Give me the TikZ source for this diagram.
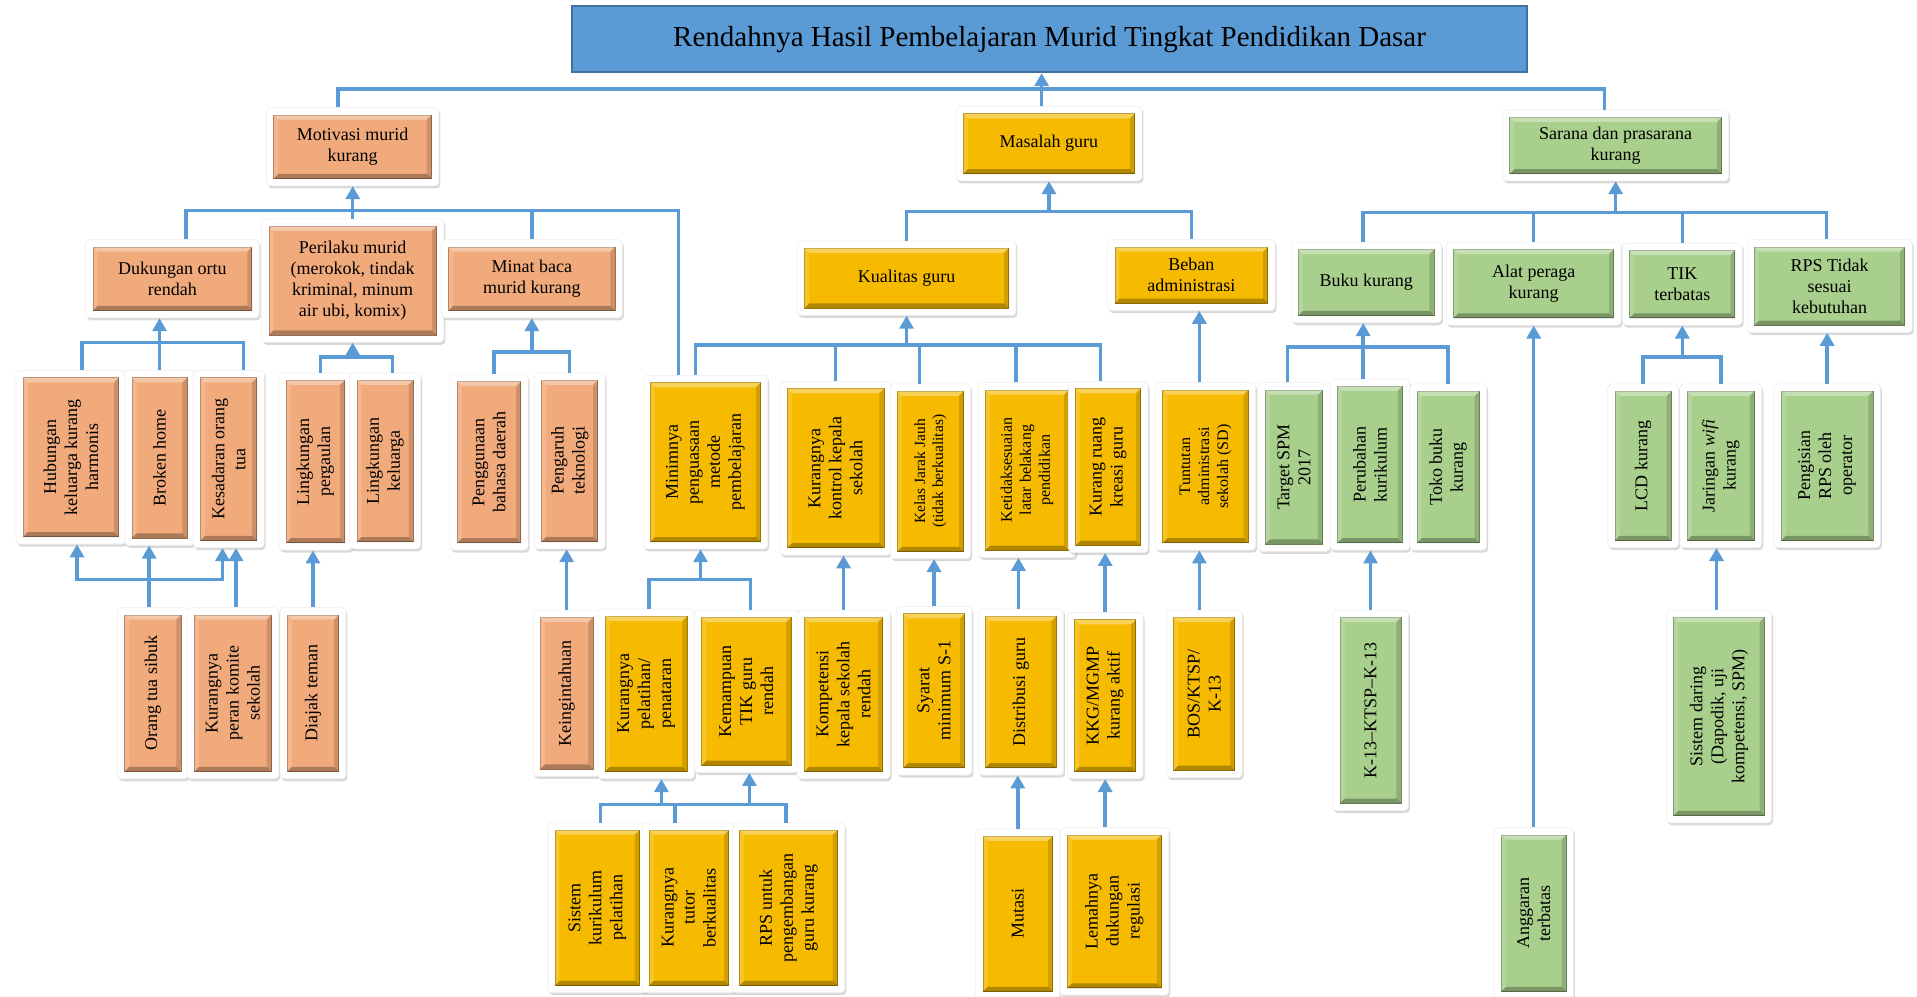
\documentclass[tikz,border=0pt]{standalone}
\usepackage{fontspec}
\setmainfont{Liberation Serif}
\usetikzlibrary{arrows.meta,shadows,calc}
\definecolor{lineblue}{RGB}{91,155,213}
\definecolor{titleblue}{RGB}{91,155,213}
\definecolor{titleedge}{RGB}{65,113,156}
\definecolor{cor}{RGB}{241,170,124}
\definecolor{cgo}{RGB}{246,187,0}
\definecolor{cgr}{RGB}{168,207,140}
\newcommand{\fA}{\fontsize{18}{21}\selectfont}
\newcommand{\fB}{\fontsize{16}{19}\selectfont}
\newcommand{\fC}{\fontsize{15.5}{18}\selectfont}
\tikzset{
 frame/.style={fill=white, draw=black!7, line width=0.6pt, rounded corners=4pt, inner sep=0pt,
   drop shadow={opacity=0.3, shadow xshift=1.5pt, shadow yshift=-2.5pt}},
 innerbox/.style={inner sep=0pt, line width=0.8pt},
 txt/.style={align=center, inner sep=0pt, text=black, font=\fA},
 ln/.style={draw=lineblue, line width=3.5pt},
 arr/.style={ln, -{Triangle[width=14pt,length=13pt]}},
 arrb/.style={ln, {Triangle[width=14pt,length=13pt]}-{Triangle[width=14pt,length=13pt]}},
}
\newcommand{\bx}[8]{%
 \node[frame, minimum width={(#4+12)*1.2226pt}, minimum height={(#5+12)*1.2226pt}] (#1) at (#2,#3) {};
 \node[innerbox, fill=#6, draw=#6!70!black, minimum width={#4*1.2226pt}, minimum height={#5*1.2226pt}] (#1-i) at (#2,#3) {};
 \fill[white, opacity=.35] (#1-i.north west) -- (#1-i.north east) -- ([shift={(-5pt,-5pt)}]#1-i.north east) -- ([shift={(5pt,-5pt)}]#1-i.north west) -- cycle;
 \fill[white, opacity=.15] (#1-i.north west) -- ([shift={(5pt,-5pt)}]#1-i.north west) -- ([shift={(5pt,5pt)}]#1-i.south west) -- (#1-i.south west) -- cycle;
 \fill[black, opacity=.28] (#1-i.south west) -- ([shift={(5pt,5pt)}]#1-i.south west) -- ([shift={(-5pt,5pt)}]#1-i.south east) -- (#1-i.south east) -- cycle;
 \fill[black, opacity=.15] (#1-i.south east) -- ([shift={(-5pt,5pt)}]#1-i.south east) -- ([shift={(-5pt,-5pt)}]#1-i.north east) -- (#1-i.north east) -- cycle;
 \node[txt, #7] (#1-t) at (#1-i.center) {#8};
}
\begin{document}
\begin{tikzpicture}[x=1.2226pt, y=-1.2226pt]
\useasboundingbox (0,0) rectangle (1568,815);

% title
\node[draw=titleedge, fill=titleblue, line width=2pt, minimum width={781*1.2226pt}, minimum height={54*1.2226pt}] (title) at (858.5,32)
 {\fontsize{29}{33}\selectfont Rendahnya Hasil Pembelajaran Murid Tingkat Pendidikan Dasar};

% level 1
\bx{motiv}{288.5}{120}{129}{52}{cor}{}{Motivasi murid\\kurang}
\bx{masalah}{858}{117.5}{140}{49}{cgo}{}{Masalah guru}
\bx{sarana}{1321.5}{119}{173}{46}{cgr}{}{Sarana dan prasarana\\kurang}

% level 2
\bx{dukung}{141}{228}{130}{52}{cor}{}{Dukungan ortu\\rendah}
\bx{perilaku}{288.5}{229.5}{137}{89}{cor}{}{Perilaku murid\\(merokok, tindak\\kriminal, minum\\air ubi, komix)}
\bx{minat}{435}{228}{136}{52}{cor}{}{Minat baca\\murid kurang}
\bx{kualitas}{741.5}{227.5}{167}{49}{cgo}{}{Kualitas guru}
\bx{beban}{974.5}{225}{125}{46}{cgo}{}{Beban\\administrasi}
\bx{buku}{1117.5}{231}{111}{54}{cgr}{}{Buku kurang}
\bx{alat}{1254.5}{232}{131}{56}{cgr}{}{Alat peraga\\kurang}
\bx{tik}{1376}{232.5}{86}{55}{cgr}{}{TIK\\terbatas}
\bx{rps}{1496.5}{234}{123}{64}{cgr}{}{RPS Tidak\\sesuai\\kebutuhan}

% level 3
\bx{hub}{58}{374}{78}{130}{cor}{rotate=90}{Hubungan\\keluarga kurang\\harmonis}
\bx{broken}{130.5}{374.5}{45}{131}{cor}{rotate=90}{Broken home}
\bx{kesadaran}{187}{375.5}{46}{133}{cor}{rotate=90}{Kesadaran orang\\tua}
\bx{lingperg}{258}{377.5}{48}{133}{cor}{rotate=90}{Lingkungan\\pergaulan}
\bx{lingkel}{315}{377}{46}{132}{cor}{rotate=90}{Lingkungan\\keluarga}
\bx{penggunaan}{400}{378}{52}{132}{cor}{rotate=90}{Penggunaan\\bahasa daerah}
\bx{pengaruh}{466}{377}{46}{132}{cor}{rotate=90}{Pengaruh\\teknologi}
\bx{minimnya}{577}{378}{90}{130}{cgo}{rotate=90}{Minimnya\\penguasaan\\metode\\pembelajaran}
\bx{kontrol}{683.5}{383}{79}{130}{cgo}{rotate=90}{Kurangnya\\kontrol kepala\\sekolah}
\bx{kelas}{761}{385.5}{54}{131}{cgo}{rotate=90,font=\fC}{Kelas Jarak Jauh\\(tidak berkualitas)}
\bx{ketidak}{840}{384.5}{68}{131}{cgo}{rotate=90,font=\fB}{Ketidaksesuaian\\latar belakang\\pendidikan}
\bx{ruang}{906.5}{382}{53}{128}{cgo}{rotate=90}{Kurang ruang\\kreasi guru}
\bx{tuntutan}{986}{381.5}{70}{125}{cgo}{rotate=90,font=\fB}{Tuntutan\\administrasi\\sekolah (SD)}
\bx{target}{1058.5}{382}{47}{126}{cgr}{rotate=90}{Target SPM\\2017}
\bx{perubahan}{1120.5}{380}{53}{128}{cgr}{rotate=90}{Perubahan\\kurikulum}
\bx{toko}{1184.5}{382}{51}{124}{cgr}{rotate=90}{Toko buku\\kurang}
\bx{lcd}{1344}{381}{46}{122}{cgr}{rotate=90}{LCD kurang}
\bx{jaringan}{1407.5}{381}{55}{122}{cgr}{rotate=90}{Jaringan \textit{wifi}\\kurang}
\bx{pengisian}{1494.5}{381}{75}{122}{cgr}{rotate=90}{Pengisian\\RPS oleh\\operator}

% level 4
\bx{ortu}{125}{567}{46}{128}{cor}{rotate=90}{Orang tua sibuk}
\bx{komite}{190.5}{567}{63}{128}{cor}{rotate=90}{Kurangnya\\peran komite\\sekolah}
\bx{diajak}{256}{567}{42}{128}{cor}{rotate=90}{Diajak teman}
\bx{ingin}{463.5}{567}{43}{124}{cor}{rotate=90}{Keingintahuan}
\bx{pelatihan}{528.5}{567.5}{67}{127}{cgo}{rotate=90}{Kurangnya\\pelatihan/\\penataran}
\bx{kemampuan}{610.5}{565.5}{73}{121}{cgo}{rotate=90}{Kemampuan\\TIK guru\\rendah}
\bx{kompetensi}{690}{568}{64}{126}{cgo}{rotate=90}{Kompetensi\\kepala sekolah\\rendah}
\bx{syarat}{764}{565}{50}{126}{cgo}{rotate=90}{Syarat\\minimum S-1}
\bx{distribusi}{835}{566}{58}{124}{cgo}{rotate=90}{Distribusi guru}
\bx{kkg}{904}{569}{50}{124}{cgo}{rotate=90}{KKG/MGMP\\kurang aktif}
\bx{bos}{985}{567.5}{50}{125}{cgo}{rotate=90}{BOS/KTSP/\\K-13}
\bx{k13}{1121}{581}{50}{152}{cgr}{rotate=90}{K-13–KTSP–K-13}
\bx{daring}{1406}{586}{74}{162}{cgr}{rotate=90}{Sistem daring\\(Dapodik, uji\\kompetensi, SPM)}

% level 5
\bx{sistem}{488.5}{742.5}{69}{127}{cgo}{rotate=90}{Sistem\\kurikulum\\pelatihan}
\bx{tutor}{563.5}{742.5}{65}{127}{cgo}{rotate=90}{Kurangnya\\tutor\\berkualitas}
\bx{rpsdev}{645}{742.5}{80}{127}{cgo}{rotate=90}{RPS untuk\\pengembangan\\guru kurang}
\bx{mutasi}{832.5}{747.5}{57}{127}{cgo}{rotate=90}{Mutasi}
\bx{lemah}{911.5}{745.5}{77}{125}{cgo}{rotate=90}{Lemahnya\\dukungan\\regulasi}
\bx{anggaran}{1254.5}{747}{53}{128}{cgr}{rotate=90}{Anggaran\\terbatas}

% ---------- connectors ----------
% top
\coordinate (topbus) at (0,73);
\path ($(motiv.north)+(-12,0)$) coordinate (m1)
      ($(sarana.north)+(-9,0)$) coordinate (s1)
      ($(masalah.north)+(-6,0)$) coordinate (ma1);
\draw[ln] (m1) |- (s1 |- topbus) -- (s1);
\draw[arr] (ma1) -- (ma1 |- title.south);

% motivasi group
\coordinate (b1) at (0,172);
\path ($(dukung.north)+(11,0)$) coordinate (d1)
      ($(minimnya.north)+(-22,0)$) coordinate (mn1);
\draw[ln] (d1) |- (mn1 |- b1) -- (mn1);
\draw[ln] (minat.north) -- (minat.north |- b1);
\draw[arr] (perilaku.north) -- (motiv.south);

% masalah group
\coordinate (b2) at (0,173);
\draw[ln] (kualitas.north) |- (beban.north |- b2) -- (beban.north);
\draw[arr] (masalah.south |- b2) -- (masalah.south);

% sarana group
\coordinate (b3) at (0,174);
\path ($(buku.north)+(-2.5,0)$) coordinate (bk1)
      ($(rps.north)+(-2.5,0)$) coordinate (rp1);
\draw[ln] (bk1) |- (rp1 |- b3) -- (rp1);
\draw[ln] (alat.north) -- (alat.north |- b3);
\draw[ln] (tik.north) -- (tik.north |- b3);
\draw[arr] (sarana.south |- b3) -- (sarana.south);

% dukungan group
\coordinate (b4) at (0,280);
\path ($(hub.north)+(9,0)$) coordinate (h1)
      ($(kesadaran.north)+(12,0)$) coordinate (k1);
\draw[ln] (h1) |- (k1 |- b4) -- (k1);
\draw[arr] (broken.north) -- (broken.north |- dukung.south);

% perilaku group
\coordinate (b5) at (0,292);
\path ($(lingperg.north)+(4,0)$) coordinate (lp1)
      ($(lingkel.north)+(6,0)$) coordinate (lk1);
\draw[ln] (lp1) |- (lk1 |- b5) -- (lk1);
\draw[arr] (perilaku.south |- b5) -- (perilaku.south);

% minat group
\coordinate (b6) at (0,288);
\path ($(penggunaan.north)+(4,0)$) coordinate (pg1);
\draw[ln] (pg1) |- (pengaruh.north |- b6) -- (pengaruh.north);
\draw[arr] (minat.south |- b6) -- (minat.south);

% kualitas group
\coordinate (b7) at (0,282);
\path ($(minimnya.north)+(-8,0)$) coordinate (mn2)
      ($(ruang.north)+(-6.5,0)$) coordinate (ru1)
      ($(kelas.north)+(-9,0)$) coordinate (ke1)
      ($(ketidak.north)+(-9,0)$) coordinate (kt1);
\draw[ln] (mn2) |- (ru1 |- b7) -- (ru1);
\draw[ln] (kontrol.north) -- (kontrol.north |- b7);
\draw[ln] (ke1) -- (ke1 |- b7);
\draw[ln] (kt1) -- (kt1 |- b7);
\draw[arr] (kualitas.south |- b7) -- (kualitas.south);

% beban
\path ($(tuntutan.north)+(-5,0)$) coordinate (tu1);
\draw[arr] (tu1) -- (tu1 |- beban.south);

% buku group
\coordinate (b8) at (0,284);
\path ($(target.north)+(-5.5,0)$) coordinate (tg1)
      ($(perubahan.north)+(-5.5,0)$) coordinate (pr1);
\draw[ln] (tg1) |- (toko.north |- b8) -- (toko.north);
\draw[arr] (pr1) -- (pr1 |- buku.south);

% alat
\draw[arr] (anggaran.north) -- (anggaran.north |- alat.south);

% tik group
\coordinate (b9) at (0,292);
\draw[ln] (lcd.north) |- (jaringan.north |- b9) -- (jaringan.north);
\draw[arr] (tik.south |- b9) -- (tik.south);

% rps
\draw[arr] (pengisian.north) -- (pengisian.north |- rps.south);

% level 4 -> level 3
\coordinate (b10) at (0,474);
\path ($(ortu.north)+(-3,0)$) coordinate (o1)
      ($(hub.south)+(5,0)$) coordinate (h2)
      ($(kesadaran.south)+(-5,0)$) coordinate (k2)
      ($(komite.north)+(2.5,0)$) coordinate (km1);
\draw[arr] (o1) -- (o1 |- broken.south);
\draw[arrb] (h2) |- (k2 |- b10) -- (k2);
\draw[arr] (km1) -- (km1 |- kesadaran.south);
\draw[arr] (diajak.north) -- (diajak.north |- lingperg.south);
\draw[arr] (ingin.north) -- (ingin.north |- pengaruh.south);

\coordinate (b11) at (0,474);
\path ($(pelatihan.north)+(2.5,0)$) coordinate (pl1)
      ($(kemampuan.north)+(3.5,0)$) coordinate (kp1)
      ($(minimnya.south)+(-4,0)$) coordinate (mn3);
\draw[ln] (pl1) |- (kp1 |- b11) -- (kp1);
\draw[arr] (mn3 |- b11) -- (mn3);
\draw[arr] (kompetensi.north) -- (kompetensi.north |- kontrol.south);
\draw[arr] (syarat.north) -- (syarat.north |- kelas.south);
\path ($(distribusi.north)+(-2,0)$) coordinate (ds1)
      ($(bos.north)+(-4,0)$) coordinate (bs1)
      ($(daring.north)+(-2,0)$) coordinate (dr1);
\draw[arr] (ds1) -- (ds1 |- ketidak.south);
\draw[arr] (kkg.north) -- (kkg.north |- ruang.south);
\draw[arr] (bs1) -- (bs1 |- tuntutan.south);
\draw[arr] (k13.north) -- (k13.north |- perubahan.south);
\draw[arr] (dr1) -- (dr1 |- jaringan.south);

% level 5 -> level 4
\coordinate (b12) at (0,658);
\path ($(sistem.north)+(2.5,0)$) coordinate (si1)
      ($(rpsdev.north)+(-2,0)$) coordinate (rd1)
      ($(tutor.north)+(-11.5,0)$) coordinate (tt1)
      ($(pelatihan.south)+(12.5,0)$) coordinate (pl2)
      ($(kemampuan.south)+(2.5,0)$) coordinate (kp2);
\draw[ln] (si1) |- (rd1 |- b12) -- (rd1);
\draw[ln] (tt1) -- (tt1 |- b12);
\draw[arr] (pl2 |- b12) -- (pl2);
\draw[arr] (kp2 |- b12) -- (kp2);
\draw[arr] (mutasi.north) -- (mutasi.north |- distribusi.south);
\draw[arr] (kkg.south |- lemah.north) -- (kkg.south);
\end{tikzpicture}
\end{document}
